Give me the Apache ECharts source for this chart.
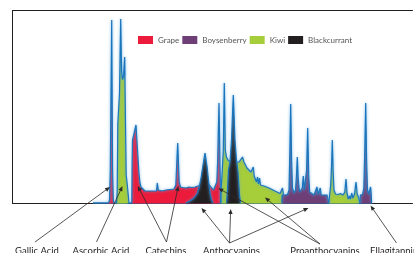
<!DOCTYPE html>
<html><head><meta charset="utf-8">
<script src="https://cdn.jsdelivr.net/npm/echarts@6/dist/echarts.min.js"></script>
<style>html,body{margin:0;padding:0;background:#fff}#c{width:414px;height:253px}</style>
</head><body><div id="c"></div>
<script>
// retention time (min) vs. absorbance (mAU)
const fruits = ['Grape', 'Boysenberry', 'Kiwi', 'Blackcurrant'];
const baselineTrace = [[9.3, 0.3], [37.2, 0.3]];
const grapeGallic = [[10.85,0.3],[10.95,1.75],[11.03,16.75],[11.17,91.75],[11.26,16.75],[11.33,1.75],[11.4,0.3]];
const kiwiAscorbic = [[11.65,0.3],[11.72,6.0],[11.78,40.0],[11.95,55.0],[12.07,92.25],[12.16,66.0],[12.25,62.0],[12.36,64.0],[12.47,73.25],[12.55,40.0],[12.62,14.25],[12.72,9.75],[12.83,8.75],[12.9,0.3]];
const grapeMain = [[13.18,0.3],[13.21,20.25],[13.25,31.75],[13.6,39.25],[13.77,25.25],[13.9,15.0],[14.0,10.25],[14.1,8.25],[14.3,7.25],[14.5,6.25],[14.7,7.25],[14.9,6.25],[15.1,6.75],[15.3,6.25],[15.5,6.75],[15.65,6.25],[15.73,10.25],[15.83,6.75],[16.0,6.75],[16.2,6.25],[16.4,7.25],[16.6,6.75],[16.8,7.5],[17.0,7.0],[17.2,7.75],[17.4,7.25],[17.58,9.25],[17.77,30.25],[17.92,10.75],[18.05,8.25],[18.3,8.0],[18.6,7.75],[18.9,8.25],[19.2,8.0],[19.5,8.25],[19.8,8.75],[20.1,9.25],[20.4,9.75],[20.7,9.75],[20.95,9.25],[21.15,8.75],[21.35,6.75],[21.55,7.25],[21.68,10.75],[21.77,21.75],[21.9,50.25],[22.0,19.25],[22.06,6.75],[22.1,0.3]];
const blackcurrant1 = [[18.6,0.3],[19.0,1.25],[19.4,2.75],[19.7,4.75],[19.9,7.75],[20.1,12.75],[20.3,19.25],[20.5,25.25],[20.7,18.75],[20.85,11.75],[21.0,5.25],[21.15,1.75],[21.3,0.3]];
const kiwiMain = [[22.06,0.3],[22.1,6.75],[22.2,14.25],[22.33,26.75],[22.43,60.25],[22.53,26.75],[22.65,23.25],[22.8,21.75],[23.2,20.25],[23.6,20.75],[23.9,20.75],[24.1,21.75],[24.25,23.25],[24.4,20.75],[24.55,19.25],[24.7,17.75],[24.9,16.75],[25.1,15.75],[25.25,14.75],[25.33,18.25],[25.42,13.75],[25.55,13.25],[25.65,10.75],[25.75,13.25],[25.85,9.75],[25.95,12.75],[26.05,9.25],[26.25,9.25],[26.4,8.75],[26.6,8.5],[26.8,8.0],[27.0,7.5],[27.2,7.0],[27.4,6.5],[27.6,6.0],[27.8,5.5],[28.0,5.0],[28.15,4.75],[28.25,7.75],[28.35,4.25],[28.4,0.3]];
const blackcurrant2 = [[22.65,0.3],[22.75,6.75],[22.85,16.75],[23.0,20.75],[23.15,31.75],[23.33,54.25],[23.5,31.75],[23.65,21.75],[23.8,15.75],[23.95,4.25],[24.05,0.3]];
const boysenMain = [[28.18,0.3],[28.23,4.25],[28.5,4.25],[28.75,4.5],[28.9,6.75],[28.99,26.75],[29.07,49.75],[29.16,21.75],[29.25,7.75],[29.4,5.25],[29.55,6.75],[29.65,14.25],[29.73,23.25],[29.82,12.75],[29.95,5.75],[30.1,5.25],[30.23,7.75],[30.33,13.75],[30.43,6.75],[30.55,5.75],[30.66,16.75],[30.77,37.75],[30.87,14.25],[30.97,5.75],[31.15,4.75],[31.4,4.25],[31.6,4.5],[31.7,8.25],[31.8,4.5],[31.95,4.25],[32.03,7.75],[32.12,4.25],[32.4,4.25],[32.7,4.25],[32.86,4.25],[32.9,0.3]];
const kiwiLate = [[32.88,0.3],[32.95,3.75],[33.07,9.25],[33.16,19.25],[33.23,31.75],[33.31,16.75],[33.4,6.75],[33.55,4.75],[33.8,4.5],[34.05,5.0],[34.3,4.25],[34.48,5.75],[34.6,12.25],[34.7,5.25],[34.83,2.25],[34.95,3.75],[35.05,2.25],[35.17,5.25],[35.28,2.75],[35.45,4.75],[35.6,10.75],[35.72,4.75],[35.85,3.25],[35.96,3.25],[36.0,0.3]];
const boysenLate = [[35.99,0.3],[36.04,4.25],[36.25,4.5],[36.38,7.75],[36.48,26.75],[36.57,50.25],[36.66,21.75],[36.75,6.75],[36.88,4.75],[36.98,5.75],[37.06,8.25],[37.12,4.75],[37.16,0.3]];

// compound annotations: label and the (time, absorbance) points the arrows mark
const compoundLabels = ['Gallic Acid', 'Ascorbic Acid', 'Catechins', 'Anthocyanins', 'Proanthocyanins', 'Ellagitannins'];
const compoundTargets = [
  [[11.0, 8.25]],
  [[12.25, 8.75]],
  [[13.78, 8.75], [17.83, 8.75]],
  [[20.15, -2.25], [23.07, -2.75], [30.85, -2.25]],
  [[21.83, 7.6], [26.5, 3.0]],
  [[37.05, -1.0]]
];

// ---- styling / layout ----
const colors = {Grape:'#ec1b3b', Boysenberry:'#6e3f77', Kiwi:'#a6cd3a', Blackcurrant:'#231f20'};
const labelLayout = [ // text x, align, arrow start x,y
  {x:37, align:'center', sx:35, sy:242},
  {x:101, align:'center', sx:96.5, sy:242},
  {x:166, align:'center', sx:166.5, sy:242},
  {x:231.5, align:'center', sx:229.5, sy:243},
  {x:325, align:'center', sx:320, sy:244},
  {x:370, align:'left', sx:396.5, sy:243}
];

const chart = echarts.init(document.getElementById('c'), null, {renderer:'canvas'});
const lineStyle = {color:'#1b75bc', width:1.2, shadowColor:'rgba(90,170,228,0.9)', shadowBlur:3};
function area(name, data, z){
  return {type:'line', name, data, z, symbol:'none', showSymbol:false, silent:true, clip:false,
    itemStyle:{color:colors[name]}, lineStyle, areaStyle:{color:colors[name], opacity:1}};
}
const axisLine = {show:true, onZero:false, lineStyle:{color:'#231f20', width:1}};
chart.setOption({
  animation:false,
  backgroundColor:'#fff',
  grid:{left:12.5, top:10.5, width:400, height:193, show:false},
  xAxis:[
    {type:'value', min:1.25, max:41.25, axisLine, axisTick:{show:false}, axisLabel:{show:false}, splitLine:{show:false}},
    {type:'value', position:'top', min:1.25, max:41.25, axisLine, axisTick:{show:false}, axisLabel:{show:false}, splitLine:{show:false}}
  ],
  yAxis:{type:'value', min:0, max:96.5, axisLine, axisTick:{show:false}, axisLabel:{show:false}, splitLine:{show:false}},
  legend:{
    left:138, top:36, padding:0, itemWidth:15, itemHeight:8, itemGap:3, selectedMode:false,
    textStyle:{fontFamily:'Lato', fontSize:8, color:'#555'},
    data: fruits.map(f => ({name:f, icon:'rect', itemStyle:{color:colors[f], borderWidth:0}}))
  },
  series:[
    {type:'line', name:'baseline', data:baselineTrace, symbol:'none', silent:true, lineStyle, z:1},
    area('Grape', grapeGallic, 2),
    area('Kiwi', kiwiAscorbic, 2),
    area('Grape', grapeMain, 2),
    area('Kiwi', kiwiMain, 2),
    area('Blackcurrant', blackcurrant1, 3),
    area('Blackcurrant', blackcurrant2, 3),
    area('Boysenberry', boysenMain, 3),
    area('Kiwi', kiwiLate, 3),
    area('Boysenberry', boysenLate, 3)
  ]
});

function arrow(x1, y1, x2, y2){
  const dx = x2-x1, dy = y2-y1, L = Math.hypot(dx, dy), ux = dx/L, uy = dy/L;
  const hl = 5, hw = 2.1, bx = x2-ux*hl, by = y2-uy*hl;
  return [
    {type:'line', silent:true, z:10, shape:{x1, y1, x2:bx+ux*1, y2:by+uy*1}, style:{stroke:'#2b2b2b', lineWidth:0.8}},
    {type:'polygon', silent:true, z:10, shape:{points:[[x2,y2],[bx-uy*hw,by+ux*hw],[bx+uy*hw,by-ux*hw]]}, style:{fill:'#2b2b2b'}}
  ];
}
const graphics = [];
compoundLabels.forEach((lab, i) => {
  const L = labelLayout[i];
  graphics.push({type:'text', silent:true, z:10, x:L.x, y:250.8,
    style:{text:lab, fill:'#231f20', fontFamily:'Lato', fontSize:9.5, align:L.align, verticalAlign:'middle'}});
  compoundTargets[i].forEach(t => {
    const p = chart.convertToPixel({gridIndex:0}, t);
    graphics.push(...arrow(L.sx, L.sy, p[0], p[1]));
  });
});
chart.setOption({graphic:graphics});
</script></body></html>
